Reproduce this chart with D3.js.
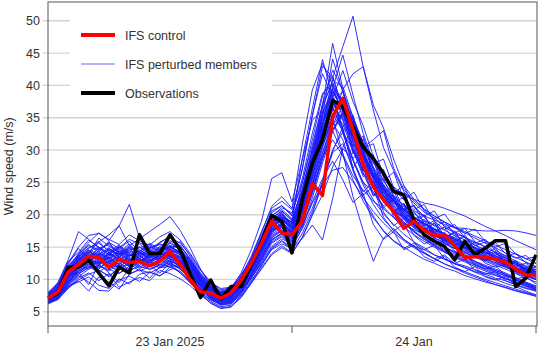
<!DOCTYPE html>
<html>
<head>
<meta charset="utf-8">
<script src="https://cdn.jsdelivr.net/npm/d3@7"></script>
<style>
  body { margin: 0; background: #fff; }
  svg { display: block; font-family: "Liberation Sans", Arial, sans-serif; }
</style>
</head>
<body>
<div id="chart"></div>
<script>
// hourly values, 23 Jan 2025 00:00 -> 25 Jan 2025 00:00 (49 points)
const startTime = "2025-01-23T00:00:00Z"
const dayTicks = ["2025-01-23T00:00:00Z", "2025-01-24T00:00:00Z", "2025-01-25T00:00:00Z"]
const dayLabels = ["23 Jan 2025", "24 Jan"]
const yTicks = [5, 10, 15, 20, 25, 30, 35, 40, 45, 50]
const legendLabels = ["IFS control", "IFS perturbed members", "Observations"]

const observations = [7.1,7.9,11.9,11.9,13.0,11.0,9.0,11.9,11.0,16.9,14.0,14.0,16.9,14.6,10.8,7.2,9.9,7.0,8.9,8.9,12.3,15.8,19.9,19.0,14.1,22.3,28.0,31.6,37.7,36.7,33.6,30.5,28.7,26.4,23.6,23.1,19.2,16.9,15.9,15.1,13.0,15.9,13.8,14.8,16.0,16.0,8.9,10.2,13.8]

const control = [7.1,8.1,11.2,12.3,13.6,13.4,11.9,13.1,12.6,12.8,12.1,12.8,14.3,12.3,9.9,8.1,7.9,7.1,7.9,9.9,12.5,15.6,19.0,17.2,16.9,19.0,24.8,23.0,35.2,38.0,33.1,27.8,24.3,22.3,20.5,17.9,19.0,17.6,16.8,16.9,15.2,13.4,13.5,13.5,13.1,12.7,11.6,10.7,10.7]

const members = [
  [7.0,8.4,10.5,12.1,13.0,12.6,13.4,12.2,13.8,12.9,13.5,14.1,13.2,12.0,10.8,9.1,8.0,7.2,7.6,9.4,12.0,14.8,17.9,18.6,17.5,22.4,29.5,35.8,39.2,36.0,31.4,27.9,25.0,23.1,21.0,19.8,18.7,17.9,17.1,16.2,15.6,14.8,14.1,13.5,13.0,12.2,11.5,10.8,10.1],
  [7.8,9.1,11.9,13.5,14.8,15.9,14.2,15.0,13.6,14.4,15.2,14.0,15.8,14.6,12.4,10.2,8.6,7.8,8.1,10.0,13.1,16.5,20.6,21.4,19.8,27.1,35.4,41.8,38.2,33.5,27.2,29.8,24.1,21.0,22.6,19.4,20.5,18.2,16.4,17.3,15.2,15.9,14.1,13.0,13.7,12.2,11.5,11.9,10.6],
  [6.4,7.2,8.9,9.6,10.4,9.1,8.6,10.1,9.3,10.8,11.2,10.5,11.9,12.4,10.6,8.8,7.1,6.2,6.5,8.0,10.2,12.6,15.1,16.3,15.4,17.8,21.0,25.2,29.8,33.6,35.1,31.2,27.0,24.6,22.1,20.0,18.4,17.0,16.1,15.0,14.2,13.6,12.8,12.0,11.4,10.8,10.0,9.3,8.7],
  [7.3,8.0,10.9,13.8,15.4,14.2,15.9,13.1,12.0,14.5,13.8,15.1,14.2,13.0,11.5,9.6,8.4,7.0,7.3,9.1,11.8,15.2,19.0,20.4,18.1,24.8,31.6,38.4,41.5,36.0,29.4,31.8,26.0,22.5,23.8,20.1,18.6,19.9,17.0,16.2,17.5,15.1,14.3,15.0,13.2,12.5,12.9,11.4,10.8],
  [7.5,8.6,11.2,13.0,14.1,15.8,16.9,18.3,21.6,16.4,14.9,15.6,16.8,15.1,13.2,10.8,9.0,8.1,8.4,10.6,12.9,16.0,19.2,18.8,17.4,23.6,30.1,34.2,36.8,32.8,34.5,27.3,23.0,24.6,20.4,21.8,19.0,17.6,18.7,16.3,15.8,16.9,14.6,14.0,14.8,13.1,12.4,11.6,11.9],
  [6.3,7.0,8.6,10.2,11.0,9.8,10.9,8.8,9.6,10.3,9.8,11.4,10.9,10.1,9.0,7.6,6.4,5.6,5.8,7.2,9.4,11.8,14.0,15.2,14.1,16.4,19.9,23.1,27.4,30.2,28.6,25.0,22.3,20.1,18.5,17.0,15.8,14.9,13.8,13.1,12.4,11.8,11.1,10.5,10.0,9.4,8.9,8.2,7.6],
  [7.1,8.2,10.8,12.6,13.4,14.9,13.7,14.2,15.5,13.8,14.6,13.9,15.1,14.2,12.0,9.8,8.3,7.4,7.8,9.7,12.4,15.6,18.8,19.9,18.6,21.9,27.0,33.8,41.2,46.0,50.7,42.9,36.2,30.4,26.8,23.6,21.8,20.4,19.5,18.3,17.4,16.5,15.8,15.0,14.2,13.6,12.9,12.1,11.5],
  [7.6,9.0,12.4,14.8,13.2,12.1,13.9,15.2,14.0,12.8,13.6,14.7,13.5,12.9,11.2,9.2,7.9,7.1,7.7,9.8,13.4,17.2,21.3,22.8,21.0,30.8,39.3,43.4,40.1,34.8,30.2,27.0,24.8,22.4,20.7,19.5,18.2,17.5,16.4,15.8,15.1,14.3,13.9,13.2,12.6,12.0,11.4,10.7,10.0],
  [6.8,7.9,10.1,11.7,12.9,13.6,12.5,11.9,13.0,14.2,13.1,12.6,14.0,13.3,11.1,9.3,7.6,6.8,7.1,8.9,11.5,14.4,17.2,18.4,17.1,21.5,28.3,36.9,46.5,39.5,31.0,26.8,28.9,22.9,20.4,21.7,18.3,17.5,18.8,16.0,15.2,16.1,14.0,13.3,14.2,12.6,11.8,10.9,11.3],
  [7.4,8.3,11.5,12.9,14.4,13.2,14.6,13.9,12.8,13.5,14.8,13.6,14.9,15.3,13.1,10.6,8.7,7.6,7.2,9.0,11.7,14.9,17.8,19.5,18.9,22.6,27.8,33.5,39.6,44.7,38.5,32.6,28.1,25.2,23.0,21.4,20.2,19.1,18.4,17.6,16.8,16.1,15.3,14.6,13.9,13.3,12.6,11.8,11.2],
  [6.9,7.6,9.8,11.0,12.2,11.5,10.4,11.8,12.5,11.3,12.0,13.2,12.7,11.6,10.0,8.4,7.3,6.5,6.9,8.4,10.9,13.6,16.2,17.0,15.8,18.4,22.0,25.6,28.3,25.4,21.9,23.3,18.5,16.2,17.4,14.6,15.3,13.5,12.8,13.6,11.9,11.2,12.0,10.4,9.9,10.5,9.1,8.6,8.2],
  [7.2,8.1,10.4,12.3,11.6,13.0,14.1,12.7,13.3,12.1,13.9,12.8,13.6,12.4,11.3,9.4,8.2,7.5,7.9,9.5,12.2,15.0,17.6,18.1,16.9,20.3,25.1,30.6,34.8,29.5,22.8,17.6,12.8,16.4,17.9,16.2,15.1,14.6,13.8,13.2,12.5,12.1,11.5,11.0,10.6,10.1,9.6,9.0,8.5],
  [7.0,8.5,11.1,13.6,14.5,13.3,12.4,13.8,14.6,15.0,13.9,14.3,15.2,14.8,12.6,10.3,8.8,7.7,8.0,10.2,12.7,15.8,19.1,20.0,18.7,22.9,28.6,34.1,37.5,35.8,32.4,29.2,26.6,24.3,22.8,21.5,20.6,19.8,19.2,18.5,18.0,17.9,17.6,17.5,17.5,17.6,17.5,17.2,16.8],
  [6.6,7.4,9.2,10.8,11.9,12.8,11.6,10.9,12.1,13.0,12.4,11.8,12.9,12.1,10.4,8.6,7.0,6.0,6.3,7.6,9.8,12.1,14.7,15.9,14.6,17.1,20.5,24.8,30.1,32.8,30.0,26.5,23.4,21.2,19.6,18.1,16.9,15.9,15.0,14.2,13.5,12.9,12.2,11.5,10.9,10.2,9.7,9.1,8.4],
  [7.9,9.3,12.8,14.2,16.1,15.0,13.8,14.9,16.2,15.5,14.1,15.8,16.5,15.6,13.8,11.4,9.5,8.6,8.8,10.8,13.0,16.2,19.8,21.1,20.3,24.9,30.8,37.0,40.4,37.2,35.4,30.0,27.9,28.6,24.1,22.3,23.5,20.6,19.4,20.1,18.0,17.1,17.8,15.9,15.0,15.6,14.0,13.2,13.5],
  [6.7,7.3,9.0,9.8,8.2,10.4,9.6,8.5,10.8,11.5,10.2,11.9,12.3,11.0,9.6,8.0,6.8,6.1,6.4,7.9,10.5,13.2,16.0,17.2,16.0,19.5,24.4,29.6,34.0,36.8,33.2,29.0,25.5,22.9,20.8,19.3,18.0,16.8,15.9,15.0,14.3,13.6,12.8,12.2,11.6,11.0,10.3,9.6,9.0],
  [7.4,8.8,11.6,13.2,14.0,16.4,15.1,14.3,13.6,15.0,14.2,13.4,14.6,15.9,13.5,11.0,9.3,8.2,8.6,11.0,14.6,19.0,25.6,26.5,22.0,28.4,34.6,36.2,33.0,29.4,26.0,23.8,22.1,20.9,19.6,18.6,17.7,16.9,16.1,15.5,14.8,14.2,13.6,13.0,12.4,11.9,11.2,10.6,10.0],
  [7.2,8.0,10.2,12.0,13.1,12.3,13.6,14.4,12.9,13.7,12.6,13.9,14.4,13.4,11.7,9.9,8.1,7.3,7.5,9.3,11.9,15.1,18.3,19.2,17.6,21.0,26.4,31.9,36.4,38.0,32.1,26.5,22.9,24.0,19.6,17.8,18.9,16.5,15.3,16.0,14.4,13.6,14.1,12.5,11.9,12.3,11.0,10.4,10.0],
  [6.5,7.1,9.4,11.3,12.0,11.1,12.3,11.0,11.8,12.6,11.5,12.2,13.0,11.9,10.1,8.5,7.2,6.3,6.6,8.2,10.7,13.5,16.4,17.5,16.2,19.0,23.8,28.9,31.6,29.1,25.4,22.1,19.5,17.6,16.0,15.0,14.0,13.1,12.5,11.8,11.3,10.6,10.1,9.6,9.2,8.8,8.3,7.9,7.4],
  [8.0,9.5,12.6,15.0,16.8,17.1,16.2,15.4,16.9,16.0,15.3,16.6,17.4,16.1,14.0,11.5,9.6,8.4,8.7,10.4,12.8,15.9,19.4,20.5,19.2,23.5,29.1,35.6,39.8,37.4,32.8,28.9,26.0,23.9,22.1,20.7,19.6,18.5,17.8,17.0,16.2,15.6,14.9,14.2,13.6,13.0,12.3,11.6,11.0],
  [6.9,7.8,10.6,12.4,13.6,14.3,12.8,13.5,12.2,13.1,14.5,13.0,13.8,12.7,11.0,9.0,7.7,6.9,7.0,8.7,11.2,14.0,17.0,18.0,16.5,20.0,25.8,32.4,38.0,42.3,37.5,33.8,29.0,25.2,26.6,22.4,20.8,21.6,19.0,17.7,18.5,16.4,15.6,16.2,14.5,13.7,14.0,12.6,11.9],
  [7.3,8.4,11.0,12.8,13.5,12.4,14.2,13.1,14.0,12.6,13.3,14.6,13.7,13.1,11.4,9.5,8.0,7.1,7.4,9.2,11.6,14.5,17.5,18.5,17.2,20.6,24.9,29.5,34.6,39.4,41.8,42.9,37.0,33.4,28.6,24.5,22.4,20.9,19.8,18.9,18.0,17.2,16.4,15.6,14.9,14.1,13.4,12.7,12.0],
  [7.0,7.7,9.9,11.5,12.7,13.9,14.8,13.5,12.3,13.2,12.5,13.6,12.8,12.2,10.6,8.9,7.4,6.6,6.8,8.6,11.1,13.9,16.8,17.7,16.4,19.8,24.0,28.8,33.2,35.6,33.0,29.3,26.0,23.5,21.4,19.8,18.5,17.4,16.4,15.6,14.8,14.1,13.4,12.8,12.2,11.6,10.9,10.2,9.6],
  [7.1,8.3,10.3,11.1,9.2,12.4,11.0,9.5,11.7,13.0,12.2,11.0,12.5,12.9,11.2,9.4,8.1,7.0,7.3,9.0,11.4,14.2,17.4,18.3,17.0,20.8,26.9,33.0,37.9,33.2,27.0,23.5,25.2,20.4,18.3,19.5,16.8,15.5,16.3,14.2,13.4,14.0,12.3,11.6,12.1,10.7,10.1,10.4,9.3],
  [6.6,7.5,9.6,11.7,12.5,11.6,12.9,12.0,13.1,11.9,12.7,12.3,13.4,12.6,10.8,9.0,7.5,6.7,6.9,8.3,10.3,12.4,14.6,15.5,14.8,16.3,18.4,16.1,22.5,30.4,33.8,30.0,26.4,23.4,21.2,19.5,18.0,16.9,15.8,15.0,14.1,13.4,12.7,12.0,11.4,10.8,10.2,9.5,8.9],
  [7.7,9.0,12.0,13.9,15.2,14.6,15.7,14.8,15.9,14.3,15.6,14.7,16.0,15.2,13.0,10.8,9.1,8.0,8.5,10.5,13.6,17.4,21.0,22.1,20.8,26.9,35.2,43.0,41.3,36.6,31.9,28.2,25.6,23.7,22.0,20.6,19.5,18.6,17.7,16.9,16.1,15.4,14.8,14.1,13.4,12.8,12.1,11.5,10.8],
  [7.2,8.1,10.7,12.2,13.3,14.0,13.1,12.4,13.7,14.1,13.4,12.9,14.2,13.6,11.8,9.7,8.2,7.3,7.6,9.3,12.0,15.3,18.6,19.6,18.0,22.0,27.5,33.9,38.6,37.5,34.8,30.2,31.0,25.8,23.4,24.5,21.2,19.8,20.6,18.1,17.2,17.9,15.8,15.1,15.7,14.0,13.3,13.7,12.4],
  [6.4,7.0,8.8,10.4,11.6,12.2,11.3,12.6,11.4,12.0,11.6,12.4,11.9,11.3,9.6,7.8,6.3,5.5,5.7,7.3,9.6,12.2,14.9,16.0,14.9,17.9,22.6,28.0,32.9,35.4,32.0,28.1,24.8,22.2,20.3,18.7,17.3,16.2,15.3,14.4,13.7,13.0,12.3,11.7,11.1,10.5,9.9,9.2,8.6],
  [7.5,8.7,11.4,13.1,14.6,13.8,14.9,13.4,14.5,13.6,14.8,15.4,14.5,13.8,12.1,10.0,8.5,7.6,7.9,9.6,12.3,15.5,18.9,19.8,18.4,22.3,27.0,31.8,36.2,35.0,31.9,30.4,31.6,33.0,27.2,23.9,22.1,20.8,19.8,18.9,18.1,17.4,16.7,16.0,15.3,14.6,13.9,13.2,12.5],
  [6.8,7.7,10.0,11.9,12.8,12.0,11.5,13.0,12.7,13.5,12.9,13.7,13.1,12.8,11.1,9.2,7.8,6.9,7.2,8.8,11.3,14.3,17.4,18.5,17.3,21.2,26.2,31.2,35.1,37.8,34.6,30.4,27.1,24.2,22.0,20.4,19.0,17.8,16.9,16.0,15.2,14.5,13.8,13.2,12.6,11.9,11.2,10.6,10.0],
  [7.1,8.2,10.9,12.7,13.9,13.0,14.1,13.2,12.5,14.0,13.5,14.2,14.9,14.1,12.3,10.1,8.4,7.5,7.8,9.6,12.1,15.4,18.7,19.7,18.3,22.5,28.1,34.4,38.9,38.0,34.5,31.0,28.4,26.0,24.3,23.1,22.4,21.8,21.5,21.0,20.4,19.8,19.0,18.2,17.5,16.8,16.0,15.3,14.6],
  [6.9,7.5,9.5,11.2,12.3,13.2,12.0,11.4,12.8,11.7,12.3,13.1,12.4,11.8,10.2,8.7,7.3,6.4,6.7,8.4,10.8,13.6,16.6,17.6,16.3,19.4,24.6,30.3,35.5,33.0,28.4,24.6,21.6,19.3,17.6,16.2,15.1,14.1,13.2,12.4,11.7,11.0,10.4,9.8,9.2,8.7,8.2,7.8,7.4],
  [7.3,8.9,11.8,14.0,15.7,17.2,16.0,18.3,15.2,14.1,15.0,14.4,15.3,14.0,12.5,10.4,8.8,7.8,8.2,10.1,12.9,16.3,19.9,20.8,19.4,24.0,30.2,37.1,42.4,39.2,34.0,29.6,26.5,24.1,22.3,20.9,19.7,18.7,17.9,17.1,16.4,15.7,15.0,14.3,13.7,13.0,12.3,11.6,10.9],
  [7.6,8.5,11.3,13.4,12.6,14.1,13.3,14.6,13.1,12.7,14.0,13.3,14.7,13.9,12.2,10.0,8.5,7.7,8.0,9.9,12.6,15.7,19.0,19.3,17.8,21.6,26.8,32.6,37.0,36.2,30.1,25.9,27.4,22.0,20.5,21.3,18.2,17.1,17.8,15.6,14.8,15.5,13.6,12.9,13.4,11.9,11.3,11.6,10.5],
  [7.0,8.0,10.5,12.1,13.0,14.5,15.6,14.0,15.2,16.3,17.4,18.5,19.7,17.6,14.8,11.6,9.0,7.9,8.3,10.1,12.5,15.6,18.9,19.5,18.0,22.1,27.6,34.0,38.0,36.4,32.3,28.6,25.8,23.5,21.6,20.2,19.0,18.0,17.2,16.4,15.6,14.9,14.3,13.6,13.0,12.4,11.8,11.1,10.5],
  [7.4,8.6,11.0,12.5,14.0,13.7,12.9,13.6,14.3,13.1,12.7,14.1,13.5,13.4,11.6,9.6,8.1,7.2,7.5,9.2,11.8,14.9,18.1,19.0,19.0,28.6,36.4,44.0,38.2,32.5,28.4,25.0,23.6,21.4,22.2,19.5,18.3,19.0,16.8,15.9,16.5,14.6,13.9,14.4,12.8,12.1,12.6,11.1,10.5],
  [6.2,6.9,8.7,9.9,10.8,11.4,10.6,11.7,10.9,11.5,11.0,11.8,12.0,11.1,9.4,7.9,6.6,5.8,6.0,7.4,9.5,11.6,13.8,14.9,14.0,16.5,20.1,24.9,29.6,31.0,27.2,23.0,24.4,19.6,17.5,18.6,15.7,14.6,15.3,13.2,12.5,13.1,11.4,10.8,11.2,9.8,9.2,9.5,8.4],
  [7.2,8.4,11.4,13.0,13.8,12.7,13.9,15.0,13.8,14.6,13.6,12.9,14.3,14.4,12.4,10.2,8.6,7.5,7.8,9.7,12.2,15.2,18.4,19.4,18.2,21.8,27.3,33.2,37.2,34.6,30.4,27.0,24.5,22.5,20.8,19.6,18.5,17.6,16.8,16.1,15.4,14.8,14.1,13.5,12.9,12.3,11.6,11.0,10.4],
  [7.0,7.9,10.2,11.8,13.1,12.5,13.5,12.3,13.4,12.8,13.9,13.2,14.0,13.0,11.3,9.3,7.9,7.0,7.3,9.0,11.6,14.6,17.8,18.8,17.5,21.1,26.0,31.4,35.6,34.1,29.8,26.3,24.9,25.6,22.1,20.9,21.4,19.6,18.2,18.9,17.0,16.6,15.2,15.8,14.0,13.4,12.6,12.0,11.2],
  [7.8,9.2,12.2,13.7,14.9,15.6,14.4,15.3,14.1,15.7,14.8,15.5,15.0,14.3,12.8,10.7,9.0,8.0,8.3,10.3,13.2,16.8,20.3,21.4,20.0,25.5,32.6,38.8,40.0,36.9,32.4,28.8,26.2,24.0,22.2,20.8,19.6,18.6,17.7,16.9,16.2,15.5,14.8,14.2,13.6,13.0,12.4,11.7,11.1],
  [7.5,9.6,13.1,17.4,16.2,14.8,15.4,14.0,15.0,14.2,13.8,14.9,14.6,13.9,12.0,9.9,8.3,7.4,7.7,9.5,12.1,15.1,18.2,19.1,17.8,21.7,26.9,32.7,36.6,33.0,28.7,30.2,25.5,21.9,23.0,19.8,18.4,19.3,16.9,16.0,16.8,14.8,14.1,14.7,13.0,12.3,12.8,11.2,10.7],
  [6.7,7.4,9.3,10.9,11.8,12.9,11.8,12.1,11.2,12.4,13.0,12.0,12.6,11.6,10.0,8.2,6.9,6.2,6.2,7.8,10.1,12.8,15.6,16.6,15.4,18.6,23.2,28.6,33.1,36.0,33.4,29.4,25.8,23.0,20.7,18.9,17.4,16.2,15.2,14.3,13.4,12.7,12.0,11.3,10.7,10.1,9.5,8.9,8.3],
  [7.3,8.3,10.8,12.9,13.6,14.7,13.2,13.9,14.8,13.2,14.4,13.8,14.1,14.7,12.9,10.5,8.7,7.7,8.1,9.8,12.4,15.6,18.9,20.1,18.8,23.0,28.9,35.3,39.0,36.4,31.2,27.8,29.3,24.0,21.7,22.8,19.6,18.3,19.1,16.7,15.9,16.6,14.6,13.8,14.4,12.7,12.0,12.5,11.1],
  [6.5,7.3,9.1,10.6,9.6,8.3,8.2,9.9,10.5,9.7,11.1,10.6,11.5,12.0,10.7,9.0,7.4,6.5,6.7,8.1,10.6,13.3,16.1,17.2,15.9,18.9,23.5,29.0,33.9,35.8,32.2,28.3,25.0,22.5,20.4,18.8,17.5,16.4,15.5,14.6,13.9,13.2,12.5,11.9,11.2,10.6,10.0,9.4,8.8],
  [7.1,8.0,10.3,12.4,13.7,13.1,14.0,13.0,13.7,14.3,13.0,13.5,13.9,12.6,11.0,9.1,7.6,6.8,7.1,8.8,11.4,14.4,17.7,18.7,17.3,21.3,26.8,33.0,37.8,39.0,35.0,30.9,27.4,24.7,22.6,20.9,19.6,18.5,17.6,16.7,15.9,15.2,14.5,13.8,13.2,12.5,11.9,11.2,10.6],
  [7.0,8.2,10.6,12.2,12.9,13.8,12.6,13.3,12.0,13.6,12.8,14.0,13.2,12.5,11.0,9.3,7.8,6.9,7.2,8.9,11.5,14.5,17.6,18.4,17.0,20.7,25.5,30.8,34.2,31.6,26.8,22.7,19.8,17.4,15.9,14.8,15.6,14.2,13.2,13.8,12.4,11.9,11.2,10.8,10.2,9.8,9.2,8.7,8.2],
  [7.4,8.7,11.6,13.3,14.2,15.0,14.1,14.7,13.5,14.9,15.4,14.4,15.6,14.6,12.7,10.5,8.8,7.9,8.2,10.0,12.8,16.1,19.5,20.6,19.1,23.7,29.9,36.5,40.8,39.8,35.1,29.4,25.7,27.0,22.6,20.7,21.5,18.6,17.4,18.1,15.9,15.0,15.7,13.7,13.0,13.5,11.8,11.2,11.6],
  [7.2,8.1,10.4,12.0,13.2,12.4,13.3,14.1,13.0,12.6,13.8,13.1,13.9,13.5,11.7,9.8,8.2,7.3,7.6,9.4,12.0,15.1,18.3,19.3,17.9,21.9,27.8,35.4,44.1,39.0,33.6,29.4,26.3,23.9,21.9,20.4,19.2,18.2,17.3,16.5,15.7,15.0,14.3,13.6,13.0,12.3,11.7,11.0,10.3],
  [6.6,7.4,9.7,11.4,12.4,11.8,12.7,11.5,12.4,13.1,12.1,12.9,12.2,11.9,10.3,8.5,7.1,6.3,6.5,8.1,10.4,13.0,15.8,16.8,15.6,18.2,21.8,24.6,26.9,27.3,25.1,22.7,20.5,18.7,17.2,16.0,14.9,14.0,13.2,12.4,11.8,11.2,10.6,10.0,9.5,9.0,8.5,8.0,7.6],
  [7.5,8.8,11.7,13.5,14.3,13.5,14.7,13.8,14.9,14.0,13.2,14.5,15.1,14.0,12.2,10.1,8.6,7.6,8.0,9.8,12.5,15.8,19.2,20.2,18.6,22.8,28.5,34.8,39.4,36.1,30.5,32.2,27.1,23.4,24.3,20.7,19.3,20.0,17.3,16.5,17.2,15.1,14.3,15.0,13.2,12.4,12.9,11.3,10.8]
]

drawChart("#chart")

function drawChart(id){
    const canvas = createCanvas()
    const svg = addSvg(id, canvas)
    const sc = addScales(canvas)

    addGrid(svg, sc, canvas)
    addMembers(svg, sc)
    addSeries(svg, sc, observations, "#000", 3.5)
    addSeries(svg, sc, control, "#ff0000", 3.5)
    addFrame(svg, sc, canvas)
    addLegend(svg, sc)
}

function createCanvas(){
    return { width: 540, height: 351, margin: { top: 2, bottom: 25, right: 3, left: 48 } }
}

function addSvg(id, canvas){
    return d3.select(id).append("svg")
      .attr("width", canvas.width).attr("height", canvas.height)
}

function addScales(canvas){
    const t0 = new Date(startTime)
    const times = observations.map((d, i) => d3.utcHour.offset(t0, i))
    const xScale = d3.scaleUtc()
      .domain([new Date(dayTicks[0]), new Date(dayTicks[2])])
      .range([canvas.margin.left, 536])
    const yScale = d3.scaleLinear().domain([2.8, 52.9])
      .range([canvas.height - canvas.margin.bottom, canvas.margin.top])
    return { xScale, yScale, times }
}

function addGrid(svg, sc, canvas){
    svg.append("g").selectAll("line").data(yTicks).join("line")
      .attr("x1", canvas.margin.left - 5).attr("x2", canvas.width - canvas.margin.right)
      .attr("y1", d => sc.yScale(d)).attr("y2", d => sc.yScale(d))
      .attr("stroke", "#d4d4d4").attr("stroke-width", 1.3)

    svg.append("g").selectAll("text").data(yTicks).join("text")
      .attr("x", canvas.margin.left - 8).attr("y", d => sc.yScale(d))
      .attr("dy", "0.36em").attr("text-anchor", "end")
      .attr("font-size", 12.5).attr("fill", "#333").text(d => d)

    svg.append("text")
      .attr("transform", `translate(13,${sc.yScale(27.5)}) rotate(-90)`)
      .attr("text-anchor", "middle").attr("font-size", 12.5).attr("fill", "#333")
      .text("Wind speed (m/s)")
}

function addMembers(svg, sc){
    const line = d3.line().x((d, i) => sc.xScale(sc.times[i])).y(d => sc.yScale(d))
    svg.append("g").selectAll("path").data(members).join("path")
      .attr("fill", "none").attr("stroke", "#1a1aff").attr("stroke-width", 0.9)
      .attr("stroke-linejoin", "round").attr("d", line)
}

function addSeries(svg, sc, values, colour, width){
    const line = d3.line().x((d, i) => sc.xScale(sc.times[i])).y(d => sc.yScale(d))
    svg.append("path").datum(values)
      .attr("fill", "none").attr("stroke", colour).attr("stroke-width", width)
      .attr("stroke-linejoin", "round").attr("d", line)
}

function addFrame(svg, sc, canvas){
    const bottom = canvas.height - canvas.margin.bottom
    svg.append("rect")
      .attr("x", canvas.margin.left).attr("y", canvas.margin.top)
      .attr("width", canvas.width - canvas.margin.right - canvas.margin.left)
      .attr("height", bottom - canvas.margin.top)
      .attr("fill", "none").attr("stroke", "#555").attr("stroke-width", 1)

    const ticks = dayTicks.map(d => new Date(d))
    svg.append("g").selectAll("line").data(ticks).join("line")
      .attr("x1", d => sc.xScale(d)).attr("x2", d => sc.xScale(d))
      .attr("y1", bottom).attr("y2", bottom + 7)
      .attr("stroke", "#555")

    svg.append("g").selectAll("text").data(dayLabels).join("text")
      .attr("x", (d, i) => (sc.xScale(ticks[i]) + sc.xScale(ticks[i + 1])) / 2)
      .attr("y", bottom + 20).attr("text-anchor", "middle")
      .attr("font-size", 12.5).attr("fill", "#333").text(d => d)
}

function addLegend(svg, sc){
    svg.append("rect").attr("x", 70).attr("y", 12).attr("width", 202).attr("height", 96)
      .attr("fill", "#fff")

    const styles = [
      { colour: "#ff0000", width: 4 },
      { colour: "#6a6aff", width: 1.2 },
      { colour: "#000", width: 4 }
    ]
    const rows = svg.append("g").selectAll("g").data(legendLabels).join("g")
      .attr("transform", (d, i) => `translate(81,${35 + i * 29})`)
    rows.append("line").attr("x1", 0).attr("x2", 34)
      .attr("stroke", (d, i) => styles[i].colour).attr("stroke-width", (d, i) => styles[i].width)
    rows.append("text").attr("x", 44).attr("dy", "0.36em")
      .attr("font-size", 12.5).attr("fill", "#333").text(d => d)
}
</script>
</body>
</html>
